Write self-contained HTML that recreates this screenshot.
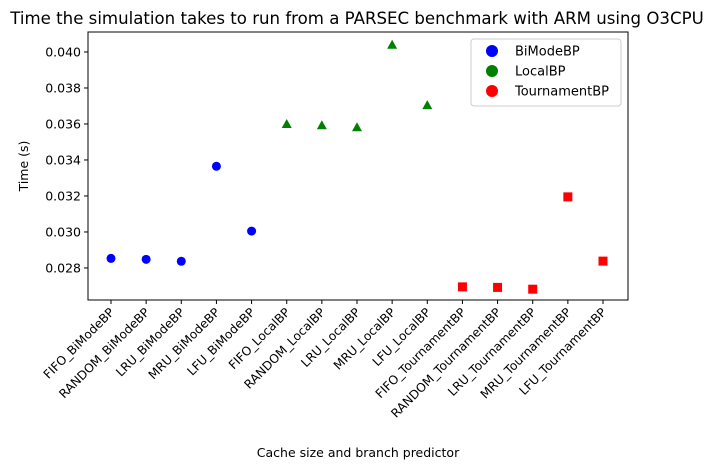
<!DOCTYPE html>
<html><head><meta charset="utf-8"><style>
body{margin:0;background:#fff;}
svg text{font-family:"DejaVu Sans","Liberation Sans",sans-serif;fill:#000;}
</style></head><body>
<svg id="c" width="714" height="470" xmlns="http://www.w3.org/2000/svg"></svg>
<script>
const categories=["FIFO_BiModeBP","RANDOM_BiModeBP","LRU_BiModeBP","MRU_BiModeBP","LFU_BiModeBP","FIFO_LocalBP","RANDOM_LocalBP","LRU_LocalBP","MRU_LocalBP","LFU_LocalBP","FIFO_TournamentBP","RANDOM_TournamentBP","LRU_TournamentBP","MRU_TournamentBP","LFU_TournamentBP"];
const bimodeValues=[0.02853,0.02848,0.02837,0.03365,0.03005];
const localValues=[0.03600,0.03593,0.03582,0.04040,0.03705];
const tournamentValues=[0.02695,0.02692,0.02682,0.03195,0.02838];
const yTicks=[0.028,0.030,0.032,0.034,0.036,0.038,0.040];
const NS="http://www.w3.org/2000/svg";
const svg=document.getElementById('c');
const L=88,R=628,T=32,B=300;
const yMin=0.02622,yMax=0.04111;
function y(v){return B-(v-yMin)/(yMax-yMin)*(B-T);}
function x(i){return 111+i*(603-111)/(categories.length-1);}
function mk(tag,a,p){const e=document.createElementNS(NS,tag);for(const k in a)e.setAttribute(k,a[k]);(p||svg).appendChild(e);return e;}
let t=mk('text',{x:357,y:24,'font-size':16.6,'text-anchor':'middle'});


t.textContent="Time the simulation takes to run from a PARSEC benchmark with ARM using O3CPU";
yTicks.forEach(v=>{
 const g=mk('g',{});
 
 
 mk('line',{x1:L-4,x2:L,y1:y(v),y2:y(v),stroke:'#000'},g);
 const tx=mk('text',{x:L-7,y:y(v)+4.5,'font-size':12.5,'text-anchor':'end'},g);tx.textContent=v.toFixed(3);
});
categories.forEach((c,i)=>{
 const g=mk('g',{});
 
 
 mk('line',{x1:x(i),x2:x(i),y1:B,y2:B+4,stroke:'#000'},g);
 const tx=mk('text',{x:x(i)+4,y:B+13,'font-size':12.2,'text-anchor':'end',transform:`rotate(-45 ${x(i)+4} ${B+13})`},g);tx.textContent=c;
});
const yl=mk('text',{x:28,y:(T+B)/2,'font-size':12.5,'text-anchor':'middle',transform:`rotate(-90 28 ${(T+B)/2})`});


yl.textContent="Time (s)";
const xl=mk('text',{x:358,y:457,'font-size':12.5,'text-anchor':'middle'});


xl.textContent="Cache size and branch predictor";
bimodeValues.forEach((v,i)=>{const e=mk('circle',{cx:x(i),cy:y(v),r:4.5,fill:'#0000ff'});
 
 });
localValues.forEach((v,i)=>{const cx=x(i+5),cy=y(v);const e=mk('polygon',{points:`${cx},${cy-5} ${cx-5},${cy+4} ${cx+5},${cy+4}`,fill:'#008000'});
 
 });
tournamentValues.forEach((v,i)=>{const cx=x(i+10),cy=y(v);const e=mk('rect',{x:cx-4.5,y:cy-4.5,width:9,height:9,fill:'#ff0000'});
 
 });
const fr=mk('rect',{x:L,y:T,width:R-L,height:B-T,fill:'none',stroke:'#000','stroke-width':1});


const lg=mk('g',{});


mk('rect',{x:471,y:39,width:150,height:67,rx:3,fill:'#fff',stroke:'#ccc'},lg);
const names=["BiModeBP","LocalBP","TournamentBP"],cols=["#0000ff","#008000","#ff0000"];
names.forEach((n,i)=>{
 const g=mk('g',{},lg);
 
 
 mk('circle',{cx:492,cy:51+i*20,r:6,fill:cols[i]},g);
 const tx=mk('text',{x:515,y:55.5+i*20,'font-size':13},g);tx.textContent=n;
});
</script>
</body></html>
